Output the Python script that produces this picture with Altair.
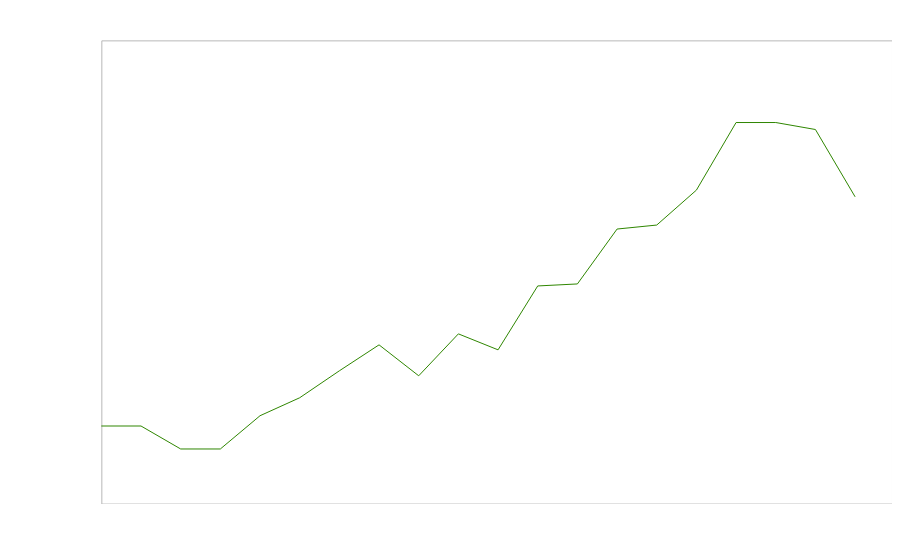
import altair as alt
import pandas as pd

index = list(range(20))
values = [77.7, 77.7, 54.7, 54.7, 88, 106, 133, 159, 128, 170,
          154, 218, 220, 275, 279, 314, 381.7, 381.7, 374.7, 307.3]

df = pd.DataFrame({"i": index, "v": values})

chart = (
    alt.Chart(df)
    .mark_line(color="#2e8600", strokeWidth=1)
    .encode(
        x=alt.X("i:Q", scale=alt.Scale(domain=[0, 19.93], nice=False, zero=False), axis=None),
        y=alt.Y("v:Q", scale=alt.Scale(domain=[0, 464], nice=False), axis=None),
    )
    .properties(width=792, height=464,
                padding={"left": 91.5, "top": 32, "right": 0, "bottom": 0})
    .configure_view(stroke="#b8b8b8", strokeWidth=1)
)

chart.save("out.html", embed_options={"renderer": "svg", "actions": False})
